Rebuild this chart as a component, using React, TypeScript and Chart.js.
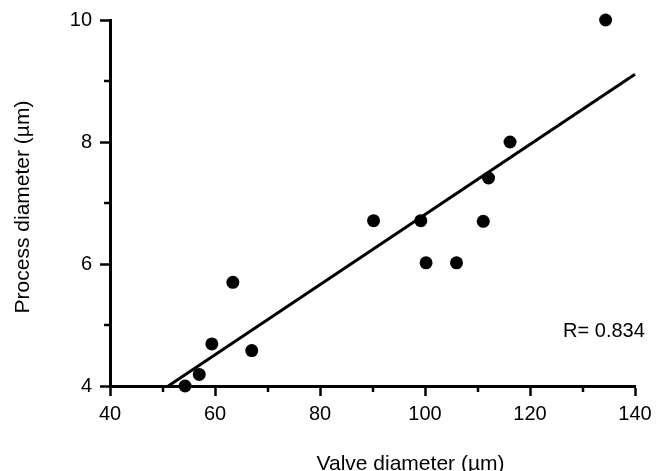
import React, { useEffect, useRef } from "react";
import { Chart, registerables } from "chart.js";

Chart.register(...registerables);

// Scatter data
const valveDiameter = [54.3, 57.0, 59.4, 63.4, 67.0, 90.2, 99.2, 100.2, 106.0, 111.1, 112.1, 116.2, 134.4];
const processDiameter = [4.0, 4.19, 4.69, 5.7, 4.58, 6.71, 6.71, 6.02, 6.02, 6.7, 7.41, 8.0, 10.0];

// Regression line endpoints
const fitX = [51.1, 140];
const fitY = [4.0, 9.11];

// Axis ticks
const xMajorTicks = [40, 60, 80, 100, 120, 140];
const xMinorTicks = [50, 70, 90, 110, 130];
const yMajorTicks = [4, 6, 8, 10];
const yMinorTicks = [5, 7, 9];

const xTitle = "Valve diameter (\u00b5m)";
const yTitle = "Process diameter (\u00b5m)";
const rLabel = "R= 0.834";
const rLabelPos = [126.3, 4.8];

const FONT = "'Liberation Sans', Arial, Helvetica, sans-serif";

export default function App() {
  const canvasRef = useRef<HTMLCanvasElement | null>(null);

  useEffect(() => {
    const canvas = canvasRef.current;
    if (!canvas) return;

    const overlay = {
      id: "overlay",
      afterDraw(chart: any) {
        const { ctx, chartArea } = chart;
        const xs = chart.scales.x;
        const ys = chart.scales.y;
        ctx.save();
        ctx.strokeStyle = "#000";
        ctx.lineWidth = 2.5;
        // minor ticks
        for (const v of xMinorTicks) {
          const px = Math.round(xs.getPixelForValue(v));
          ctx.beginPath();
          ctx.moveTo(px, chartArea.bottom);
          ctx.lineTo(px, chartArea.bottom + 6);
          ctx.stroke();
        }
        for (const v of yMinorTicks) {
          const py = Math.round(ys.getPixelForValue(v));
          ctx.beginPath();
          ctx.moveTo(chartArea.left - 6, py);
          ctx.lineTo(chartArea.left, py);
          ctx.stroke();
        }
        ctx.fillStyle = "#000";
        // x title
        ctx.font = `21px ${FONT}`;
        ctx.textAlign = "center";
        ctx.textBaseline = "middle";
        ctx.fillText(xTitle, (chartArea.left + chartArea.right) / 2 + 38, chartArea.bottom + 78);
        // y title
        ctx.save();
        ctx.translate(23, (chartArea.top + chartArea.bottom) / 2 + 4);
        ctx.rotate(-Math.PI / 2);
        ctx.fillText(yTitle, 0, 0);
        ctx.restore();
        // R label
        ctx.font = `20px ${FONT}`;
        ctx.textAlign = "left";
        ctx.textBaseline = "alphabetic";
        ctx.fillText(rLabel, xs.getPixelForValue(rLabelPos[0]), ys.getPixelForValue(rLabelPos[1]));
        ctx.restore();
      },
    };

    const chart = new Chart(canvas, {
      type: "scatter",
      data: {
        datasets: [
          {
            label: "fit",
            type: "line",
            data: fitX.map((x, i) => ({ x, y: fitY[i] })),
            borderColor: "#000",
            borderWidth: 3,
            pointRadius: 0,
            fill: false,
            clip: false,
          } as any,
          {
            label: "samples",
            data: valveDiameter.map((x, i) => ({ x, y: processDiameter[i] })),
            backgroundColor: "#000",
            borderColor: "#000",
            pointRadius: 6.5,
            pointBorderWidth: 0,
            clip: false,
          } as any,
        ],
      },
      options: {
        animation: false,
        responsive: true,
        maintainAspectRatio: false,
        layout: { padding: { left: 0, top: 15, right: 33, bottom: 0 } },
        plugins: {
          legend: { display: false },
          tooltip: { enabled: false },
          title: { display: false },
        },
        scales: {
          x: {
            type: "linear",
            min: 40,
            max: 140,
            afterBuildTicks(scale: any) {
              scale.ticks = xMajorTicks.map((v) => ({ value: v }));
            },
            afterFit(scale: any) {
              scale.height = 85;
            },
            border: { display: true, color: "#000", width: 3 },
            grid: {
              drawOnChartArea: false,
              drawTicks: true,
              tickLength: 10,
              tickWidth: 2.5,
              tickColor: "#000",
              color: "#000",
            },
            ticks: {
              color: "#000",
              font: { size: 20, family: FONT },
              padding: 6,
              maxRotation: 0,
            },
          },
          y: {
            type: "linear",
            min: 4,
            max: 10,
            afterBuildTicks(scale: any) {
              scale.ticks = yMajorTicks.map((v) => ({ value: v }));
            },
            afterFit(scale: any) {
              scale.width = 110;
            },
            border: { display: true, color: "#000", width: 3 },
            grid: {
              drawOnChartArea: false,
              drawTicks: true,
              tickLength: 10,
              tickWidth: 2.5,
              tickColor: "#000",
              color: "#000",
            },
            ticks: {
              color: "#000",
              font: { size: 20, family: FONT },
              padding: 8,
            },
          },
        },
      },
      plugins: [overlay],
    });

    return () => chart.destroy();
  }, []);

  return (
    <div style={{ position: "absolute", left: 0, top: 0, width: 668, height: 471, background: "#fff" }}>
      <canvas ref={canvasRef} />
    </div>
  );
}
